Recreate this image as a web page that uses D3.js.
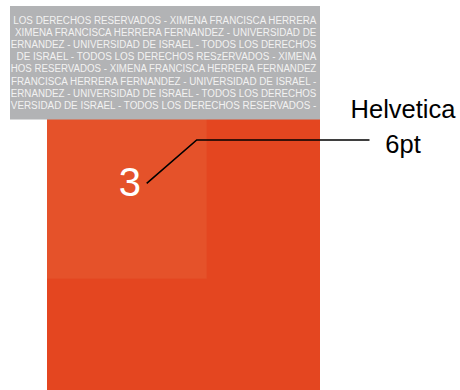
<!DOCTYPE html>
<html>
<head>
<meta charset="utf-8">
<script src="https://cdn.jsdelivr.net/npm/d3@7"></script>
<style>
  html, body { margin: 0; padding: 0; background: #ffffff; }
  svg { display: block; }
</style>
</head>
<body>
<div id="chart"></div>
<script>
// ---- data ----
const categories = ["3"];
const outerValues = [1];          // full tile (relative size)
const innerValues = [0.585];      // lighter inner square (relative to tile width)
const numberLabels = ["3"];
const annotationLines = ["Helvetica", "6pt"];
const watermarkRows = [
  "LOS DERECHOS RESERVADOS - XIMENA FRANCISCA HERRERA",
  "XIMENA FRANCISCA HERRERA FERNANDEZ - UNIVERSIDAD DE",
  "ERNANDEZ - UNIVERSIDAD DE ISRAEL - TODOS LOS DERECHOS",
  "DE ISRAEL - TODOS LOS DERECHOS RESzERVADOS - XIMENA",
  "HOS RESERVADOS - XIMENA FRANCISCA HERRERA FERNANDEZ",
  "FRANCISCA HERRERA FERNANDEZ - UNIVERSIDAD DE ISRAEL -",
  "ERNANDEZ - UNIVERSIDAD DE ISRAEL - TODOS LOS DERECHOS",
  "VERSIDAD DE ISRAEL - TODOS LOS DERECHOS RESERVADOS -"
];

// layout (left edge of each watermark row)
const rowStarts = [13.3, 15, 10.8, 16.5, 10.8, 11, 10.8, 10.8];

const W = 460, H = 390;
const svg = d3.select("#chart").append("svg")
  .attr("width", W).attr("height", H);

// scales
const x = d3.scaleLinear().domain([0, 1]).range([47, 320]);
const y = d3.scaleLinear().domain([0, 1]).range([119, 392]);
const rowY = d3.scalePoint().domain(d3.range(watermarkRows.length)).range([23.6, 109]);

// outer tile
svg.selectAll("rect.outer").data(outerValues).join("rect")
  .attr("class", "outer")
  .attr("x", x(0)).attr("y", y(0))
  .attr("width", d => x(d) - x(0))
  .attr("height", d => y(d) - y(0))
  .attr("fill", "#e44620");

// lighter inner square
svg.selectAll("rect.inner").data(innerValues).join("rect")
  .attr("class", "inner")
  .attr("x", x(0)).attr("y", y(0))
  .attr("width", d => x(d) - x(0))
  .attr("height", d => y(d) - y(0))
  .attr("fill", "#e5522a");

// gray watermark box
const gx0 = 10, gx1 = 320, gy0 = 6, gy1 = 119.5;
svg.append("rect")
  .attr("x", gx0).attr("y", gy0)
  .attr("width", gx1 - gx0).attr("height", gy1 - gy0)
  .attr("fill", "#b2b3b5");
const rowEnd = 316.3;
svg.append("g")
  .selectAll("text").data(watermarkRows).join("text")
  .attr("x", (d, i) => rowStarts[i])
  .attr("y", (d, i) => rowY(i))
  .attr("textLength", (d, i) => rowEnd - rowStarts[i])
  .attr("lengthAdjust", "spacingAndGlyphs")
  .attr("font-family", "'Liberation Sans', Arial, Helvetica, sans-serif")
  .attr("font-size", 10)
  .attr("fill", "#f2f2f2")
  .text(d => d);

// big number
svg.selectAll("text.num").data(numberLabels).join("text")
  .attr("class", "num")
  .attr("x", (x(0) + x(innerValues[0])) / 2 + 3)
  .attr("y", 195.5)
  .attr("text-anchor", "middle")
  .attr("font-family", "'Liberation Sans', Arial, Helvetica, sans-serif")
  .attr("font-size", 40)
  .attr("fill", "#ffffff")
  .text(d => d);

// leader line
const leader = [[146.7, 183.3], [196.7, 140], [369.5, 140]];
svg.append("path")
  .attr("d", d3.line()(leader))
  .attr("fill", "none")
  .attr("stroke", "#000000")
  .attr("stroke-width", 1.6);

// annotation
svg.selectAll("text.ann").data(annotationLines).join("text")
  .attr("class", "ann")
  .attr("x", 403)
  .attr("y", (d, i) => 118.3 + i * 35)
  .attr("text-anchor", "middle")
  .attr("font-family", "'Liberation Sans', Arial, Helvetica, sans-serif")
  .attr("font-size", 25.5)
  .attr("fill", "#000000")
  .text(d => d);
</script>
</body>
</html>
